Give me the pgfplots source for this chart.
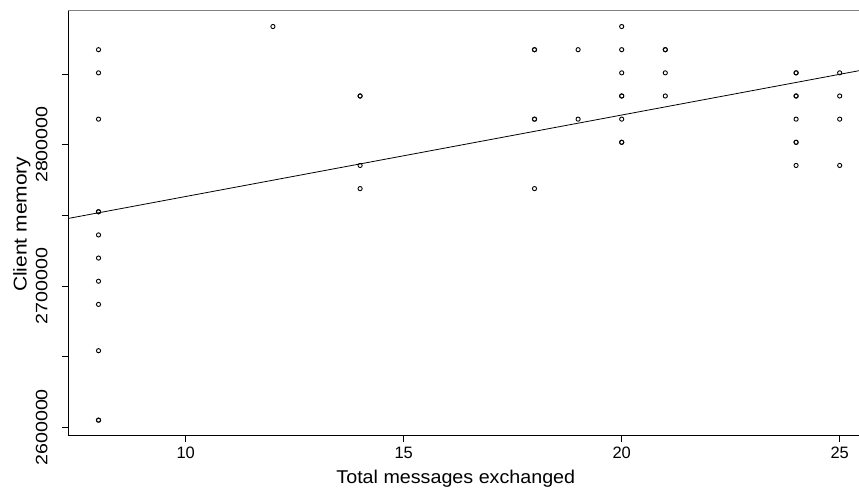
\documentclass[border=0pt]{standalone}
\usepackage{fontspec}
\setmainfont{Liberation Sans}
\usepackage{graphicx}
\usepackage{pgfplots}
\usepackage{pgfplotstable}
\pgfplotsset{compat=1.18}
\newcommand{\sy}[1]{\scalebox{1.19}[1]{#1}}
\pgfplotstableread{
x y
8 2867200
8 2850816
8 2818048
8 2752512
8 2752512
8 2736128
8 2719744
8 2703360
8 2686976
8 2654208
8 2605056
8 2605056
12 2883584
14 2834432
14 2834432
14 2785280
14 2768896
18 2867200
18 2867200
18 2818048
18 2818048
18 2768896
19 2867200
19 2818048
20 2883584
20 2867200
20 2850816
20 2834432
20 2834432
20 2818048
20 2801664
20 2801664
21 2867200
21 2867200
21 2850816
21 2834432
24 2850816
24 2850816
24 2834432
24 2834432
24 2818048
24 2801664
24 2801664
24 2785280
25 2850816
25 2834432
25 2818048
25 2785280
}\pts
\begin{document}
\begin{tikzpicture}
\useasboundingbox (-68bp,-55.3bp) rectangle (791bp,435.7bp);
\begin{axis}[
  name=ax,
  at={(0,0)}, anchor=south west,
  width=791bp, height=425.2bp, scale only axis,
  xmin=7.3, xmax=25.443, ymin=2594056, ymax=2894934,
  scaled y ticks=false,
  axis lines*=left,
  axis line style={black, line width=0.8bp},
  tick align=outside,
  major tick length=6bp,
  tick style={black, line width=0.8bp},
  xtick={10,15,20,25},
  xticklabels={10,15,20,25},
  ytick={2600000,2650000,2700000,2750000,2800000,2850000},
  yticklabels={\sy{2600000},,\sy{2700000},,\sy{2800000},},
  xticklabel style={font=\fontsize{16.5bp}{18bp}\selectfont, anchor=base, yshift=-16.6bp},
  yticklabel style={font=\fontsize{16.5bp}{18bp}\selectfont, rotate=90, anchor=base, yshift=14.7bp},
  xlabel={\scalebox{1.065}[1]{Total messages exchanged}},
  ylabel={\scalebox{1.135}[1]{Client memory}},
  xlabel style={font=\fontsize{18.5bp}{20bp}\selectfont, at={(axis description cs:0.4903,0)}, anchor=base, yshift=-47.6bp},
  ylabel style={font=\fontsize{18.5bp}{20bp}\selectfont, at={(axis description cs:0,0.4974)}, anchor=base, yshift=41.3bp},
  clip=true,
]
\addplot[black, line width=0.8bp, no marks] coordinates {(7.3,2747750) (25.443,2852335)};
\addplot[only marks, mark=o, mark size=2.1bp, mark options={line width=0.9bp, black}] table {\pts};
\end{axis}
\draw[gray, line width=1.1bp] (ax.north west) -- (ax.north east);
\end{tikzpicture}
\end{document}
